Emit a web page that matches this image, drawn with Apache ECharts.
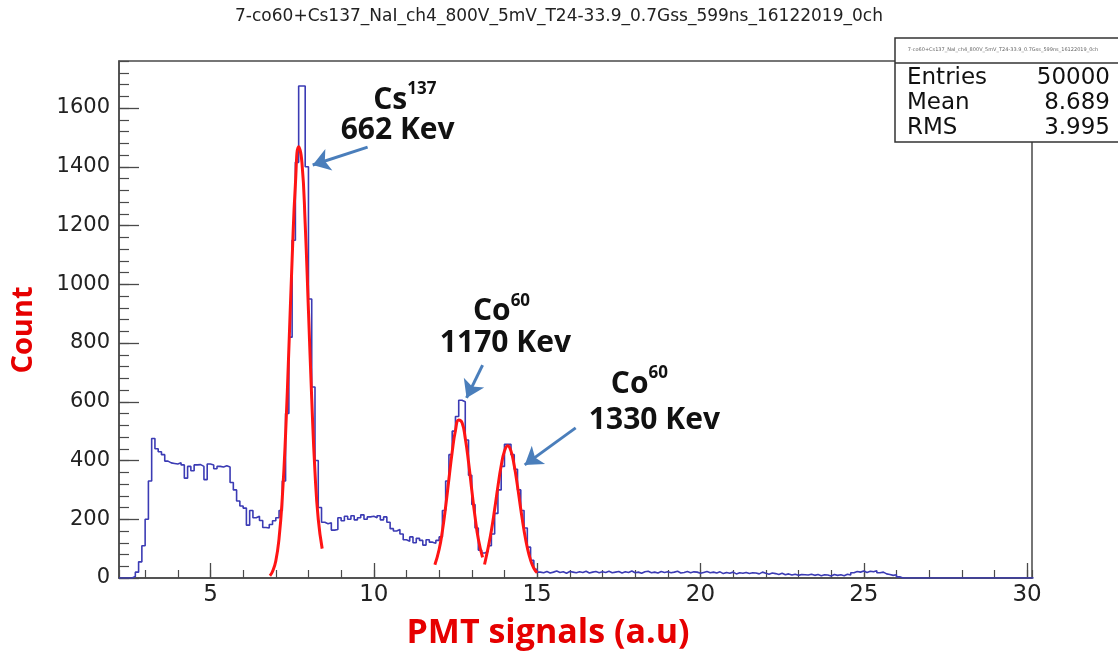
<!DOCTYPE html>
<html>
<head>
<meta charset="utf-8">
<script src="https://cdn.jsdelivr.net/npm/echarts@6/dist/echarts.min.js"></script>
<style>
  html, body { margin: 0; padding: 0; background: #fff; }
  #chart { width: 1118px; height: 654px; }
</style>
</head>
<body>
<div id="chart"></div>
<script>
// Histogram of PMT signals, bins of 0.1 a.u. starting at 2.2
const histTitle = '7-co60+Cs137_NaI_ch4_800V_5mV_T24-33.9_0.7Gss_599ns_16122019_0ch';
const binLow = 2.2;
const binWidth = 0.1;
const counts = [
  0, 0, 0, 0, 5, 20, 55, 110, 200, 330,             // 2.2 - 3.1
  475, 440, 430, 420, 398, 392, 390, 388, 392, 385, // 3.2 - 4.1
  340, 380, 365, 385, 386, 380, 335, 388, 385, 372, // 4.2 - 5.1
  380, 378, 382, 378, 325, 300, 262, 245, 238, 180, // 5.2 - 6.1
  230, 205, 210, 196, 172, 170, 182, 195, 205, 230, // 6.2 - 7.1
  330, 560, 820, 1150, 1415, 1675, 1675, 1400, 950, 650, // 7.2 - 8.1
  400, 240, 190, 185, 188, 163, 165, 205, 195, 210, // 8.2 - 9.1
  200, 212, 198, 205, 215, 200, 208, 210, 205, 212, // 9.2 - 10.1
  198, 208, 190, 168, 160, 165, 150, 130, 125, 140, // 10.2 - 11.1
  120, 135, 128, 112, 130, 122, 118, 128, 140, 230, // 11.2 - 12.1
  330, 420, 500, 550, 605, 600, 470, 350, 250, 170, // 12.2 - 13.1
  95, 85, 90, 110, 150, 220, 300, 380, 455, 455,    // 13.2 - 14.1
  420, 370, 300, 230, 170, 105, 60, 30, 20, 18,     // 14.2 - 15.1
  22, 17, 20, 24, 19, 21, 16, 22, 20, 18,           // 15.2 - 16.1
  21, 19, 23, 17, 20, 22, 18, 21, 19, 23,           // 16.2 - 17.1
  18, 20, 22, 17, 21, 19, 24, 18, 20, 16,           // 17.2 - 18.1
  21, 23, 18, 20, 17, 22, 19, 21, 18, 20,           // 18.2 - 19.1
  23, 17, 19, 22, 18, 21, 20, 16, 19, 22,           // 19.2 - 20.1
  18, 20, 17, 21, 15, 19, 16, 20, 14, 18,           // 20.2 - 21.1
  16, 19, 15, 18, 17, 14, 20, 16, 13, 17,           // 21.2 - 22.1
  15, 12, 16, 11, 14, 10, 13, 9, 12, 11,            // 22.2 - 23.1
  10, 13, 9, 12, 8, 11, 10, 7, 12, 9,               // 23.2 - 24.1
  11, 8, 13, 10, 18, 22, 20, 24, 19, 23,            // 24.2 - 25.1
  21, 25, 18, 20, 14, 12, 9, 11, 4, 0,              // 25.2 - 26.1
  0, 0, 0, 0, 0, 0, 0, 0, 0, 0,                     // 26.2 - 27.1
  0, 0, 0, 0, 0, 0, 0, 0, 0, 0,                     // 27.2 - 28.1
  0, 0, 0, 0, 0, 0, 0, 0, 0, 0,                     // 28.2 - 29.1
  0, 0, 0, 0, 0, 0, 0, 0, 0, 0                      // 29.2 - 30.1
];

// Gaussian fit curves: [x, count]
const csFit = [
  [6.82, 8], [6.9, 22], [7.0, 58], [7.1, 135], [7.2, 275], [7.3, 490], [7.4, 780],
  [7.5, 1085], [7.6, 1340], [7.7, 1468], [7.8, 1415], [7.9, 1205], [8.0, 910],
  [8.1, 610], [8.2, 360], [8.3, 200], [8.42, 100]
];
const co60aFit = [
  [11.87, 45], [12.0, 97], [12.1, 160], [12.2, 243], [12.3, 337], [12.4, 429],
  [12.5, 502], [12.6, 538], [12.7, 529], [12.8, 476], [12.9, 395], [13.0, 299],
  [13.1, 208], [13.2, 133], [13.33, 70]
];
const co60bFit = [
  [13.39, 46], [13.5, 103], [13.6, 162], [13.7, 234], [13.8, 312], [13.9, 382],
  [14.0, 432], [14.1, 450], [14.2, 432], [14.3, 382], [14.4, 312], [14.5, 234],
  [14.6, 162], [14.7, 103], [14.8, 61], [14.9, 33], [15.0, 18]
];

const statLabels = ['Entries', 'Mean', 'RMS'];
const statValues = ['50000', '8.689', '3.995'];

const peakNames = [['Cs', '137'], ['Co', '60'], ['Co', '60']];
const peakEnergies = ['662 Kev', '1170 Kev', '1330 Kev'];

// step line through bin low edges, closed at the last high edge
const histData = counts.map((c, i) => [+(binLow + i * binWidth).toFixed(2), c]);
histData.push([+(binLow + counts.length * binWidth).toFixed(2), counts[counts.length - 1]]);

const rootFont = '"DejaVu Sans", "Liberation Sans", sans-serif';
const noteFont = '"Open Sans", "Noto Sans", sans-serif';
const axisColor = '#4a4a4a';

const labelRich = {
  b: { fontFamily: noteFont, fontSize: 30, fontWeight: 'bold', color: '#111', lineHeight: 38 },
  s: { fontFamily: noteFont, fontSize: 17, fontWeight: 'bold', color: '#111', lineHeight: 20, verticalAlign: 'top' }
};

// label anchors (data coordinates) for the peak notes
const nameAnchors = [[10.95, 1627], [13.91, 906], [18.13, 660]];
const energyAnchors = [[10.73, 1522], [14.03, 797], [18.59, 538]];
const arrowPaths = [
  [[9.81, 1467], [8.13, 1406]],
  [[13.33, 725], [12.84, 613]],
  [[16.18, 511], [14.62, 385]]
];

const notePoints = [];
peakNames.forEach((n, i) => {
  notePoints.push({
    coord: nameAnchors[i],
    label: { formatter: '{b|' + n[0] + '}{s|' + n[1] + '}' }
  });
  notePoints.push({
    coord: energyAnchors[i],
    label: { formatter: '{b|' + peakEnergies[i] + '}' }
  });
});

const chart = echarts.init(document.getElementById('chart'), null, { renderer: 'canvas' });

const plainNumber = v => String(v);

const option = {
  animation: false,
  backgroundColor: '#fff',
  grid: {
    left: 119, right: 86, top: 61, bottom: 76,
    show: true, borderColor: axisColor, borderWidth: 1.5,
    backgroundColor: 'transparent'
  },
  xAxis: [
    {
      type: 'value', min: 2.2, max: 30.15,
      minInterval: 5, maxInterval: 5,
      axisLine: { show: true, lineStyle: { color: axisColor, width: 1.5 } },
      axisTick: { show: true, inside: true, length: 15, lineStyle: { color: axisColor, width: 1.3 } },
      axisLabel: {
        show: true, showMinLabel: false, showMaxLabel: false, formatter: plainNumber,
        fontFamily: rootFont, fontSize: 23, color: '#222', margin: 6
      },
      splitLine: { show: false }
    },
    {
      type: 'value', min: 2.2, max: 30.15, position: 'bottom',
      minInterval: 1, maxInterval: 1,
      axisLine: { show: false },
      axisTick: { show: true, inside: true, length: 8, lineStyle: { color: axisColor, width: 1.2 } },
      axisLabel: { show: false },
      splitLine: { show: false }
    }
  ],
  yAxis: [
    {
      type: 'value', min: 0, max: 1760, interval: 200,
      axisLine: { show: true, lineStyle: { color: axisColor, width: 1.5 } },
      axisTick: { show: true, inside: true, length: 20, lineStyle: { color: axisColor, width: 1.3 } },
      axisLabel: {
        show: true, showMaxLabel: false, formatter: plainNumber,
        fontFamily: rootFont, fontSize: 21, color: '#222', margin: 9
      },
      splitLine: { show: false }
    },
    {
      type: 'value', min: 0, max: 1760, interval: 40, position: 'left',
      axisLine: { show: false },
      axisTick: { show: true, inside: true, length: 10, lineStyle: { color: axisColor, width: 1.2 } },
      axisLabel: { show: false },
      splitLine: { show: false }
    }
  ],
  series: [
    {
      name: 'spectrum',
      type: 'line',
      step: 'end',
      data: histData,
      showSymbol: false,
      lineStyle: { color: '#3b3bb4', width: 1.6 },
      z: 2,
      markPoint: {
        silent: true,
        symbol: 'circle',
        symbolSize: 1,
        itemStyle: { color: 'rgba(0,0,0,0)' },
        label: { show: true, position: 'inside', rich: labelRich },
        data: notePoints
      },
      markLine: {
        silent: true,
        symbol: ['none', 'arrow'],
        symbolSize: 17,
        label: { show: false },
        lineStyle: { color: '#4a7ebb', width: 3, type: 'solid' },
        emphasis: { disabled: true },
        data: arrowPaths.map(p => [{ coord: p[0] }, { coord: p[1] }])
      }
    },
    {
      name: 'Cs137 fit', type: 'line', data: csFit, smooth: true, showSymbol: false,
      lineStyle: { color: '#ff1414', width: 3 }, z: 3
    },
    {
      name: 'Co60 1170 fit', type: 'line', data: co60aFit, smooth: true, showSymbol: false,
      lineStyle: { color: '#ff1414', width: 3 }, z: 3
    },
    {
      name: 'Co60 1330 fit', type: 'line', data: co60bFit, smooth: true, showSymbol: false,
      lineStyle: { color: '#ff1414', width: 3 }, z: 3
    }
  ],
  graphic: [
    {
      type: 'text', left: 'center', top: 8,
      style: { text: histTitle, font: '17px ' + rootFont, fill: '#222' }
    },
    {
      type: 'text', x: 24, y: 330, rotation: Math.PI / 2,
      style: { text: 'Count', font: 'bold 29px ' + noteFont, fill: '#e60000', align: 'center', verticalAlign: 'middle' }
    },
    {
      type: 'text', x: 548, y: 633,
      style: { text: 'PMT signals (a.u)', font: 'bold 34px ' + noteFont, fill: '#e60000', align: 'center', verticalAlign: 'middle' }
    },
    // statistics box
    {
      type: 'group', x: 895, y: 38, z: 10,
      children: [
        { type: 'rect', shape: { x: 0, y: 0, width: 240, height: 104 }, style: { fill: '#fff', stroke: '#333', lineWidth: 1.5 } },
        { type: 'line', shape: { x1: 0, y1: 25, x2: 240, y2: 25 }, style: { stroke: '#333', lineWidth: 1.5 } },
        { type: 'text', x: 108, y: 12, style: { text: histTitle, font: '5px ' + rootFont, fill: '#666', align: 'center', verticalAlign: 'middle' } }
      ].concat(statLabels.map((l, i) => ({
        type: 'text', x: 12, y: 40 + i * 25,
        style: { text: l, font: '23px ' + rootFont, fill: '#111', align: 'left', verticalAlign: 'middle' }
      }))).concat(statValues.map((v, i) => ({
        type: 'text', x: 215, y: 40 + i * 25,
        style: { text: v, font: '23px ' + rootFont, fill: '#111', align: 'right', verticalAlign: 'middle' }
      })))
    }
  ]
};

chart.setOption(option);
</script>
</body>
</html>
